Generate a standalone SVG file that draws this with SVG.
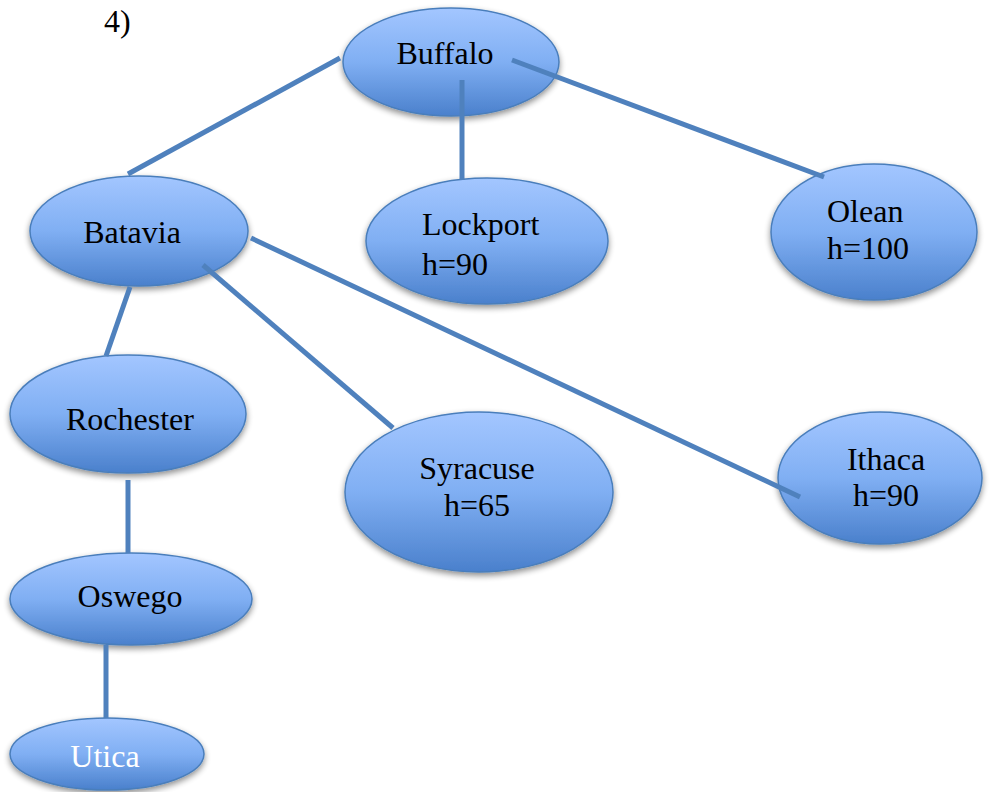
<svg xmlns="http://www.w3.org/2000/svg" width="992" height="792" viewBox="0 0 992 792">
  <defs>
    <linearGradient id="fillBlue" x1="0" y1="0" x2="0" y2="1">
      <stop offset="0" stop-color="#a3c6ff"/>
      <stop offset="0.5" stop-color="#80aff3"/>
      <stop offset="1" stop-color="#4a80cc"/>
    </linearGradient>
    <filter id="shadow" x="-20%" y="-20%" width="140%" height="150%">
      <feGaussianBlur in="SourceAlpha" stdDeviation="3"/>
      <feOffset dx="0" dy="3" result="b"/>
      <feComponentTransfer><feFuncA type="linear" slope="0.45"/></feComponentTransfer>
      <feMerge><feMergeNode/><feMergeNode in="SourceGraphic"/></feMerge>
    </filter>
  </defs>
  <style>
    .node ellipse { fill: url(#fillBlue); stroke: #4a7ebb; stroke-width: 1.5; filter: url(#shadow); }
    .node text, .label { font-family: "Liberation Serif", "Times New Roman", serif; font-size: 32px; fill: #000; }
    .c { text-anchor: middle; }
    .edges line { stroke: #4f81bd; stroke-width: 5; }
  </style>
  <rect width="992" height="792" fill="#fff"/>
  <text class="label" x="104" y="32">4)</text>

  <g id="buffalo" class="node"><ellipse cx="451" cy="62" rx="108" ry="54"/><text class="c" x="445" y="64">Buffalo</text></g>
  <g id="batavia" class="node"><ellipse cx="139" cy="231" rx="109" ry="55"/><text class="c" x="132" y="243">Batavia</text></g>
  <g id="lockport" class="node"><ellipse cx="487" cy="241" rx="121" ry="63"/><text x="422" y="235">Lockport</text><text x="422" y="275">h=90</text></g>
  <g id="olean" class="node"><ellipse cx="874" cy="232" rx="103" ry="68"/><text x="827" y="222">Olean</text><text x="827" y="259">h=100</text></g>
  <g id="rochester" class="node"><ellipse cx="128" cy="414" rx="118" ry="59"/><text class="c" x="130" y="430">Rochester</text></g>
  <g id="syracuse" class="node"><ellipse cx="479" cy="492" rx="134" ry="80"/><text class="c" x="477" y="479">Syracuse</text><text class="c" x="477" y="516">h=65</text></g>
  <g id="ithaca" class="node"><ellipse cx="880" cy="478" rx="102" ry="66"/><text class="c" x="886" y="470">Ithaca</text><text class="c" x="886" y="506">h=90</text></g>
  <g id="oswego" class="node"><ellipse cx="131" cy="599" rx="121" ry="46"/><text class="c" x="130" y="607">Oswego</text></g>
  <g id="utica" class="node"><ellipse cx="107" cy="754" rx="97" ry="36"/><text class="c" x="105" y="767" style="fill:#fff">Utica</text></g>

  <g id="connectors" class="edges">
    <line x1="340" y1="58" x2="128" y2="174"/>
    <line x1="462" y1="80" x2="462" y2="180"/>
    <line x1="512" y1="60" x2="824" y2="177"/>
    <line x1="130" y1="287" x2="106" y2="356"/>
    <line x1="203" y1="265" x2="393" y2="428"/>
    <line x1="251" y1="238" x2="800" y2="497"/>
    <line x1="128" y1="480" x2="128" y2="553"/>
    <line x1="106" y1="645" x2="106" y2="718"/>
  </g>
</svg>
